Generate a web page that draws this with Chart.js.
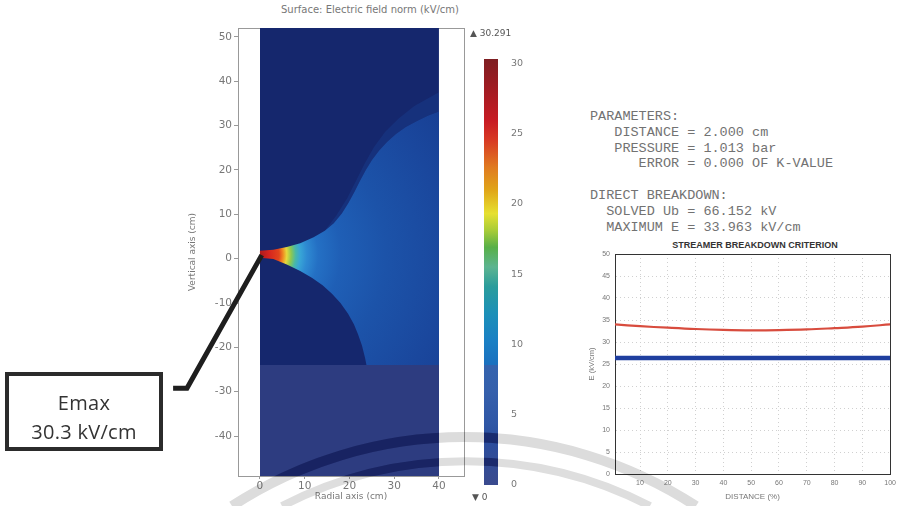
<!DOCTYPE html>
<html>
<head>
<meta charset="utf-8">
<title>Electric field and streamer breakdown</title>
<script src="https://cdn.jsdelivr.net/npm/chart.js@4.4.1/dist/chart.umd.min.js"></script>
<style>
  html, body { margin: 0; padding: 0; background: #fff; }
  #page { position: relative; width: 901px; height: 506px; overflow: hidden; font-family: "DejaVu Sans", sans-serif; }
  .holder { position: absolute; }
  .label { position: absolute; white-space: nowrap; }
  #field-title { left: 250px; top: 4px; width: 240px; text-align: center; font-size: 10px; color: #777; }
  #cb-max { left: 470px; top: 28px; font-size: 9px; color: #555; }
  #cb-min { left: 472px; top: 492px; font-size: 9px; color: #555; }
  #params { position: absolute; left: 590px; top: 109px; margin: 0; font-family: "Liberation Mono", monospace;
            font-size: 13.5px; line-height: 15.8px; color: #727272; }
  #crit-title { left: 600px; top: 240px; width: 310px; text-align: center; font-family: "Liberation Sans", sans-serif;
                font-weight: bold; font-size: 9px; color: #333; }
  #emax { position: absolute; left: 5px; top: 372px; width: 158px; height: 79px; box-sizing: border-box;
          border: 4px solid #2b2b2b; padding-top: 12px; text-align: center; font-family: "Open Sans", sans-serif;
          font-size: 20px; line-height: 29px; letter-spacing: 0.3px; color: #333; }
  #wm { position: absolute; left: 0; top: 0; pointer-events: none; }
  #wm .soft { mix-blend-mode: multiply; }
</style>
</head>
<body>
<div id="page">
  <div class="label" id="field-title">Surface: Electric field norm (kV/cm)</div>
  <div class="holder" style="left:160px;top:0;width:320px;height:506px"><canvas id="field"></canvas></div>
  <div class="holder" style="left:470px;top:40px;width:70px;height:460px"><canvas id="legend"></canvas></div>
  <div class="label" id="cb-max">▲ 30.291</div>
  <div class="label" id="cb-min">▼ 0</div>

  <pre id="params">PARAMETERS:
   DISTANCE = 2.000 cm
   PRESSURE = 1.013 bar
      ERROR = 0.000 OF K-VALUE

DIRECT BREAKDOWN:
  SOLVED Ub = 66.152 kV
  MAXIMUM E = 33.963 kV/cm</pre>

  <div class="label" id="crit-title">STREAMER BREAKDOWN CRITERION</div>
  <div class="holder" style="left:580px;top:236px;width:321px;height:270px"><canvas id="crit"></canvas></div>

  <div id="emax">Emax<br>30.3 kV/cm</div>

  <!-- faint stamp arcs across the lower edge of the page -->
  <svg id="wm" width="901" height="506">
    <defs>
      <clipPath id="onplot">
        <rect x="260" y="365" width="179" height="111"/>
        <rect x="484" y="365" width="14" height="120"/>
      </clipPath>
    </defs>
    <g class="soft">
      <path d="M 232 506 A 425 425 0 0 1 696 506" fill="none" stroke="#dcdcdc" stroke-width="10"/>
      <path d="M 282 506 A 400 400 0 0 1 650 506" fill="none" stroke="#dedede" stroke-width="8"/>
    </g>
    <g clip-path="url(#onplot)">
      <path d="M 232 506 A 425 425 0 0 1 696 506" fill="none" stroke="rgba(12,22,90,0.55)" stroke-width="10"/>
      <path d="M 282 506 A 400 400 0 0 1 650 506" fill="none" stroke="rgba(12,22,90,0.55)" stroke-width="8"/>
    </g>
  </svg>
</div>

<script>
// ---- field plot, axisymmetric gap (cm) ----
var radialTicks   = [0, 10, 20, 30, 40];
var verticalTicks = [-40, -30, -20, -10, 0, 10, 20, 30, 40, 50];

// simulation domain r = 0..40, z = -49..52
var domainTop = [{ x: 0, y: 52 }, { x: 40, y: 52 }];

// edge of the high field channel between the two electrodes
var hornUpper = [
    { x: 0, y: 1.8 }, { x: 3, y: 2.0 }, { x: 6, y: 2.6 }, { x: 9, y: 3.5 }, { x: 12, y: 4.8 },
    { x: 14.5, y: 6.3 }, { x: 16.5, y: 8.0 }, { x: 18.3, y: 10.2 }, { x: 19.8, y: 12.6 },
    { x: 21.2, y: 15.2 }, { x: 22.4, y: 17.6 }, { x: 23.6, y: 19.9 }, { x: 25, y: 22.2 },
    { x: 26.6, y: 24.3 }, { x: 28.4, y: 26.3 }, { x: 30.4, y: 28.1 }, { x: 32.6, y: 29.7 },
    { x: 35, y: 31 }, { x: 37.5, y: 32.2 }, { x: 40, y: 33.2 }
];
var hornLower = [
    { x: 0, y: 0.2 }, { x: 3, y: -0.1 }, { x: 6, y: -1.3 }, { x: 9, y: -2.8 }, { x: 11.6, y: -4.3 },
    { x: 14, y: -6 }, { x: 16.1, y: -7.9 }, { x: 18, y: -10 }, { x: 19.7, y: -12.4 }, { x: 21, y: -14.8 },
    { x: 21.9, y: -17 }, { x: 22.8, y: -19.6 }, { x: 23.5, y: -22.4 }, { x: 23.8, y: -24 }, { x: 40, y: -24 }
];
// diffuse outer fringe above the channel
var hornFringe = [
    { x: 14.5, y: 6.3 }, { x: 17, y: 9.6 }, { x: 19.5, y: 13.6 }, { x: 21.5, y: 17.6 },
    { x: 23.5, y: 21.6 }, { x: 25.5, y: 25.2 }, { x: 28, y: 28.6 }, { x: 31, y: 31.6 },
    { x: 34.5, y: 34.4 }, { x: 40, y: 37.5 }
];

// lower shaded strip
var shadeTop = [{ x: 0, y: -24 }, { x: 40, y: -24 }];

// callout from the field maximum to the Emax box
var leader = [{ x: 0.4, y: 0.8 }, { x: -16.3, y: -29.2 }, { x: -19.4, y: -29.2 }];

// ---- colour legend (kV/cm) ----
var fieldMin = 0;
var fieldMax = 30.291;
var legendTicks = [0, 5, 10, 15, 20, 25, 30];

// ---- streamer breakdown criterion ----
var distance      = [1, 10, 20, 30, 40, 50, 60, 70, 80, 90, 100];
var maxField      = [34.0, 33.6, 33.25, 32.95, 32.75, 32.65, 32.7, 32.85, 33.15, 33.5, 34.0];
var streamerField = [26.35, 26.35, 26.35, 26.35, 26.35, 26.35, 26.35, 26.35, 26.35, 26.35, 26.35];
var distanceTicks = [10, 20, 30, 40, 50, 60, 70, 80, 90, 100];
var eTicks        = [0, 5, 10, 15, 20, 25, 30, 35, 40, 45, 50];


Chart.defaults.font.family = '"DejaVu Sans", sans-serif';
Chart.defaults.animation = false;

var GREY = '#777';
var NONE = 'rgba(0,0,0,0)';

function fixedTicks(list) {
    return function (scale) {
        scale.ticks = list.map(function (v) { return { value: v }; });
    };
}

// rainbow shading around the field maximum, radius in cm
var hornShade = [
    [0, '#a81a1c'], [2, '#d5231f'], [4.3, '#e2441d'], [5.2, '#ef8d22'], [6, '#e6d83c'],
    [7, '#8cc852'], [8, '#48b8a8'], [9, '#38a6d6'], [10.5, '#2e8ad2'], [13, '#2470c4'],
    [18, '#1f5fb6'], [28, '#1c53a9'], [42, '#1a479d'], [56, '#173c90']
];

function hornFill(ctx) {
    var chart = ctx.chart;
    if (!chart.chartArea) return NONE;
    var sx = chart.scales.x, sy = chart.scales.y;
    var cx = sx.getPixelForValue(0), cy = sy.getPixelForValue(0.9);
    var unit = sx.getPixelForValue(1) - cx;
    var rMax = hornShade[hornShade.length - 1][0] * unit;
    var g = chart.ctx.createRadialGradient(cx, cy, 0, cx, cy, rMax);
    hornShade.forEach(function (s) { g.addColorStop(s[0] * unit / rMax, s[1]); });
    return g;
}

var fieldChart = new Chart(document.getElementById('field'), {
    type: 'line',
    data: {
        datasets: [
            {
                label: 'leader',
                data: leader,
                borderColor: '#1e1e1e',
                borderWidth: 5,
                borderJoinStyle: 'miter',
                pointRadius: 0,
                fill: false,
                clip: false,
                order: 0
            },
            {
                label: 'shade',
                data: shadeTop,
                borderColor: NONE,
                backgroundColor: '#2d3c80',
                pointRadius: 0,
                fill: { value: -49 },
                order: 1
            },
            {
                label: 'channel',
                data: hornUpper.concat(hornLower.slice().reverse()),
                borderColor: NONE,
                backgroundColor: hornFill,
                pointRadius: 0,
                fill: 'shape',
                order: 2
            },
            {
                label: 'fringe',
                data: hornFringe.concat(hornUpper.slice(5).reverse()),
                borderColor: NONE,
                backgroundColor: 'rgba(28,74,160,0.3)',
                pointRadius: 0,
                fill: 'shape',
                order: 3
            },
            {
                label: 'domain',
                data: domainTop,
                borderColor: NONE,
                backgroundColor: '#15276d',
                pointRadius: 0,
                fill: { value: -49 },
                order: 4
            }
        ]
    },
    options: {
        responsive: true,
        maintainAspectRatio: false,
        layout: { padding: { left: 0, right: 16, top: 28, bottom: 0 } },
        plugins: { legend: { display: false }, tooltip: { enabled: false } },
        scales: {
            x: {
                type: 'linear', min: -4.9, max: 45.6,
                afterBuildTicks: fixedTicks(radialTicks),
                afterFit: function (s) { s.height = 30; },
                grid: { drawOnChartArea: false, tickLength: 3, color: '#999' },
                border: { color: '#999' },
                ticks: { color: GREY, font: { size: 10.5 }, padding: 1, maxRotation: 0, autoSkip: false },
                title: { display: true, text: 'Radial axis (cm)', color: GREY, font: { size: 9 }, padding: { top: 0, bottom: 4 } }
            },
            x2: {
                type: 'linear', position: 'top', min: -4.9, max: 45.6,
                afterFit: function (s) { s.height = 0; },
                grid: { display: false },
                border: { color: '#999' },
                ticks: { display: false }
            },
            y: {
                type: 'linear', min: -49, max: 52,
                afterBuildTicks: fixedTicks(verticalTicks),
                afterFit: function (s) { s.width = 78; },
                grid: { drawOnChartArea: false, tickLength: 4, color: '#999' },
                border: { color: '#999' },
                ticks: { color: GREY, font: { size: 10.5 }, padding: 2, autoSkip: false },
                title: { display: true, text: 'Vertical axis (cm)', color: GREY, font: { size: 9 }, padding: { top: 27, bottom: 0 } }
            },
            y2: {
                type: 'linear', position: 'right', min: -49, max: 52,
                afterFit: function (s) { s.width = 0; },
                grid: { display: false },
                border: { color: '#999' },
                ticks: { display: false }
            }
        }
    }
});

// colour legend bar
var legendShade = [
    [0, '#3a4a8e'], [3, '#2b4d9d'], [4.4, '#2f57a6'], [6.7, '#3560ac'], [8.5, '#3463ae'],
    [8.55, '#1a70bf'], [10.3, '#1a80c4'], [12.2, '#1c90b8'], [14.1, '#2a9c9c'], [15.5, '#5cb490'],
    [16.9, '#58b048'], [18.1, '#a8cc38'], [19.3, '#e6e030'], [21, '#e0a418'], [22.6, '#e07a20'],
    [24.5, '#d83a24'], [25.9, '#c81c24'], [28.6, '#9a1c22'], [30.291, '#7e1e22']
];

function legendFill(ctx) {
    var chart = ctx.chart;
    if (!chart.chartArea) return NONE;
    var sy = chart.scales.y;
    var y0 = sy.getPixelForValue(fieldMin), y1 = sy.getPixelForValue(fieldMax);
    var g = chart.ctx.createLinearGradient(0, y0, 0, y1);
    legendShade.forEach(function (s) {
        g.addColorStop((s[0] - fieldMin) / (fieldMax - fieldMin), s[1]);
    });
    return g;
}

new Chart(document.getElementById('legend'), {
    type: 'bar',
    data: {
        labels: ['E'],
        datasets: [{
            data: [[fieldMin, fieldMax]],
            backgroundColor: legendFill,
            borderWidth: 0,
            barPercentage: 1,
            categoryPercentage: 1
        }]
    },
    options: {
        responsive: true,
        maintainAspectRatio: false,
        layout: { padding: { left: 14, right: 0, top: 19, bottom: 15 } },
        plugins: { legend: { display: false }, tooltip: { enabled: false } },
        scales: {
            x: { display: false },
            y: {
                position: 'right', min: fieldMin, max: fieldMax,
                afterBuildTicks: fixedTicks(legendTicks),
                afterFit: function (s) { s.width = 42; },
                grid: { display: false },
                border: { display: false },
                ticks: { color: GREY, font: { size: 9.5 }, padding: 5 }
            }
        }
    }
});

// streamer criterion plot
function pairs(xs, ys) {
    return xs.map(function (x, i) { return { x: x, y: ys[i] }; });
}

var ARIAL = '"Liberation Sans", sans-serif';

new Chart(document.getElementById('crit'), {
    type: 'line',
    data: {
        datasets: [
            {
                label: 'Maximum E',
                data: pairs(distance, maxField),
                borderColor: '#d84c3e',
                borderWidth: 2.2,
                pointRadius: 0,
                tension: 0.4
            },
            {
                label: 'Streamer criterion',
                data: pairs(distance, streamerField),
                borderColor: '#1f3f9f',
                borderWidth: 4.5,
                pointRadius: 0
            }
        ]
    },
    options: {
        responsive: true,
        maintainAspectRatio: false,
        layout: { padding: { left: 0, right: 6, top: 18, bottom: 0 } },
        plugins: { legend: { display: false }, tooltip: { enabled: false } },
        scales: {
            x: {
                type: 'linear', min: 1, max: 100,
                afterBuildTicks: fixedTicks(distanceTicks),
                afterFit: function (s) { s.height = 32; },
                grid: { color: '#d0d0d0', drawTicks: false },
                border: { color: '#333', dash: [1, 3] },
                ticks: { color: GREY, font: { family: ARIAL, size: 7 }, padding: 5, maxRotation: 0, autoSkip: false },
                title: { display: true, text: 'DISTANCE (%)', color: GREY, font: { family: ARIAL, size: 8 }, padding: { top: 0, bottom: 4 } }
            },
            x2: {
                type: 'linear', position: 'top', min: 1, max: 100,
                afterFit: function (s) { s.height = 0; },
                grid: { display: false },
                border: { color: '#333' },
                ticks: { display: false }
            },
            y: {
                type: 'linear', min: 0, max: 50,
                afterBuildTicks: fixedTicks(eTicks),
                afterFit: function (s) { s.width = 35; },
                grid: { color: '#d0d0d0', drawTicks: false },
                border: { color: '#333', dash: [1, 3] },
                ticks: { color: GREY, font: { family: ARIAL, size: 7 }, padding: 5, autoSkip: false },
                title: { display: true, text: 'E (kV/cm)', color: GREY, font: { family: ARIAL, size: 7.5 }, padding: { top: 7, bottom: 0 } }
            },
            y2: {
                type: 'linear', position: 'right', min: 0, max: 50,
                afterFit: function (s) { s.width = 0; },
                grid: { display: false },
                border: { color: '#333' },
                ticks: { display: false }
            }
        }
    }
});
</script>
</body>
</html>
